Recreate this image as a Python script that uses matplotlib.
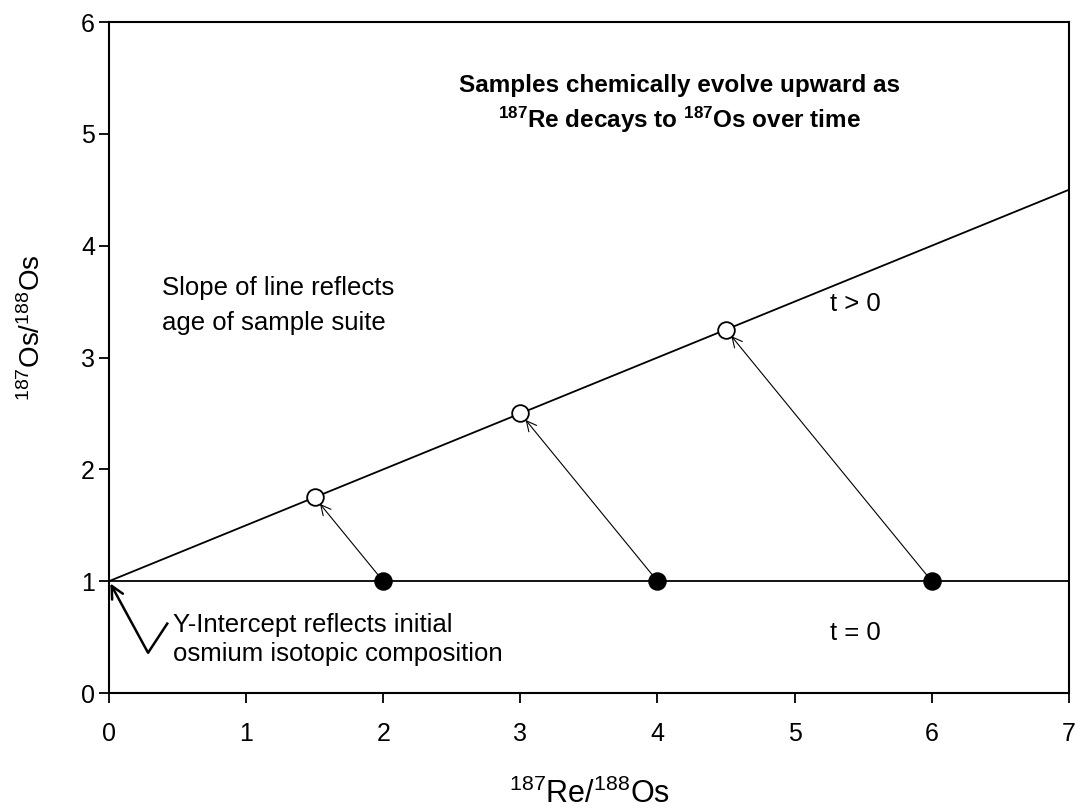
import matplotlib
matplotlib.use("Agg")
import matplotlib.pyplot as plt
import numpy as np

plt.rcParams['font.family'] = ['Liberation Sans', 'DejaVu Sans']
plt.rcParams['mathtext.fontset'] = 'custom'
plt.rcParams['mathtext.rm'] = 'Liberation Sans'
plt.rcParams['mathtext.bf'] = 'Liberation Sans:bold'
plt.rcParams['mathtext.default'] = 'rm'

# data
re_t0 = [2, 4, 6]            # 187Re/188Os of samples at t = 0
os_t0 = [1, 1, 1]
re_t1 = [1.5, 3, 4.5]        # after decay
os_t1 = [1.75, 2.5, 3.25]
line_x = [0, 7]
iso_t0 = [1, 1]
iso_t1 = [1, 4.5]
xticks = [0, 1, 2, 3, 4, 5, 6, 7]
yticks = [0, 1, 2, 3, 4, 5, 6]

fig = plt.figure(figsize=(10.81, 8.10), dpi=100)
ax = fig.add_axes([0.1008, 0.1444, 0.888, 0.8284])

ax.plot(line_x, iso_t0, color='black', lw=1.3, zorder=2)
ax.plot(line_x, iso_t1, color='black', lw=1.3, zorder=2)

# decay arrows from t=0 points to t>0 points
for x0, y0, x1, y1 in zip(re_t0, os_t0, re_t1, os_t1):
    ax.annotate('', xy=(x1, y1), xytext=(x0, y0),
                arrowprops=dict(arrowstyle='->', color='black', lw=0.8,
                                shrinkA=6, shrinkB=6,
                                mutation_scale=18))

ax.plot(re_t0, os_t0, 'o', ms=12, mfc='black', mec='black', mew=1.3, zorder=4)
ax.plot(re_t1, os_t1, 'o', ms=12, mfc='white', mec='black', mew=1.3, zorder=4)

# y-intercept pointer
ax.annotate('', xy=(0.01, 0.98), xytext=(0.285, 0.36),
            arrowprops=dict(arrowstyle='->', color='black', lw=1.8,
                            shrinkA=0, shrinkB=0, mutation_scale=22))
ax.plot([0.285, 0.43], [0.36, 0.63], color='black', lw=1.8,
        solid_capstyle='butt')

fs = 18.5
ax.text(0.465, 0.55, 'Y-Intercept reflects initial', fontsize=fs, va='baseline')
ax.text(0.465, 0.29, 'osmium isotopic composition', fontsize=fs, va='baseline')
ax.text(0.39, 3.56, 'Slope of line reflects', fontsize=fs, va='baseline')
ax.text(0.39, 3.25, 'age of sample suite', fontsize=fs, va='baseline')
ax.text(5.26, 3.42, 't > 0', fontsize=fs, va='baseline')
ax.text(5.26, 0.47, 't = 0', fontsize=fs, va='baseline')
ax.text(4.16, 5.37, 'Samples chemically evolve upward as', fontsize=17.5,
        fontweight='bold', ha='center', va='baseline')
ax.text(4.16, 5.05, r'$^{\mathbf{187}}$Re decays to $^{\mathbf{187}}$Os over time',
        fontsize=17.5, fontweight='bold', ha='center', va='baseline')

ax.set_xlim(0, 7)
ax.set_ylim(0, 6)
ax.set_xticks(xticks)
ax.set_yticks(yticks)
ax.tick_params(direction='out', length=7, width=1.3, labelsize=18,
               top=False, right=False)
ax.tick_params(axis='x', pad=14)
ax.tick_params(axis='y', pad=3)
for s in ax.spines.values():
    s.set_linewidth(1.5)

ax.set_xlabel(r'$^{187}$Re/$^{188}$Os', fontsize=22, va='top')
ax.set_ylabel(r'$^{187}$Os/$^{188}$Os', fontsize=20)
ax.xaxis.set_label_coords(0.5, -0.128)
ax.yaxis.set_label_coords(-0.066, 0.544)

fig.savefig('out.png', dpi=100)
